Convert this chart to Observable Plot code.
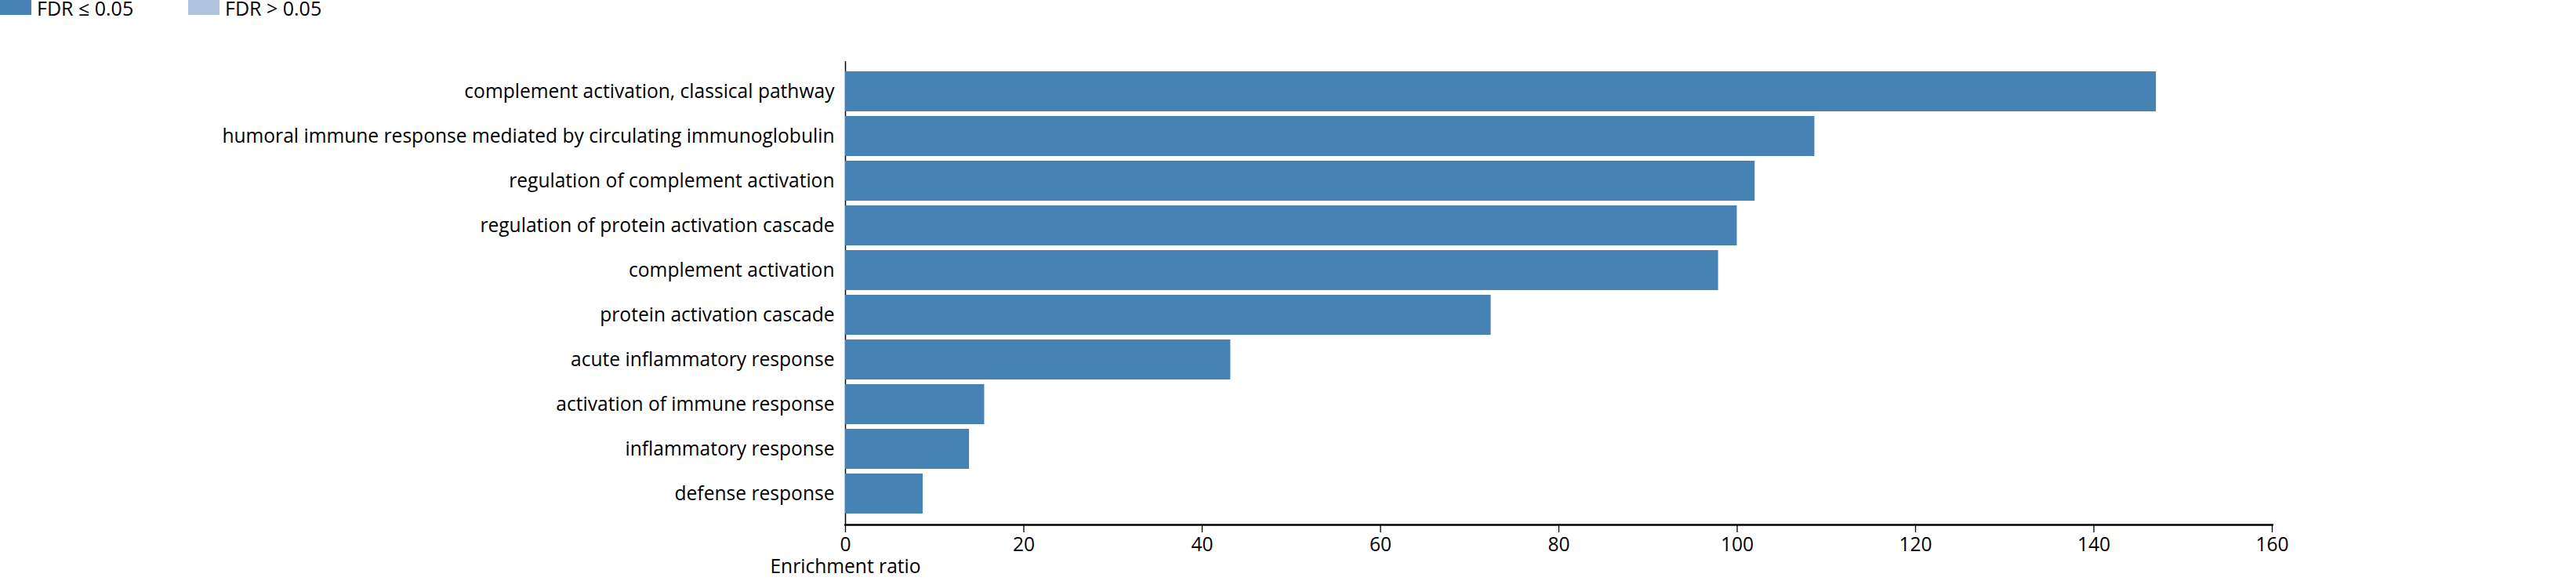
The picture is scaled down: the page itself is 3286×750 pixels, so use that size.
<!DOCTYPE html>
<html>
<head>
<meta charset="utf-8">
<script src="https://cdn.jsdelivr.net/npm/d3@7"></script>
<script src="https://cdn.jsdelivr.net/npm/@observablehq/plot@0.6"></script>
<style>
  html, body { margin: 0; padding: 0; background: #fff; }
  #legend { position: relative; width: 3286px; height: 20px; font-family: "Open Sans", sans-serif; font-size: 25px; color: #000; }
  #legend .sw { position: absolute; top: 0; width: 40px; height: 19px; }
  #legend .lb { position: absolute; top: 0; line-height: 20px; white-space: nowrap; }
  #chart svg { display: block; }
</style>
</head>
<body>
<div id="legend"></div>
<div id="chart"></div>
<script>
const categories = [
  "complement activation, classical pathway",
  "humoral immune response mediated by circulating immunoglobulin",
  "regulation of complement activation",
  "regulation of protein activation cascade",
  "complement activation",
  "protein activation cascade",
  "acute inflammatory response",
  "activation of immune response",
  "inflammatory response",
  "defense response"
];
const enrichmentRatio = [147.0, 108.7, 102.0, 100.0, 97.9, 72.4, 43.2, 15.6, 13.9, 8.7];
const fdrGroup = [
  "FDR ≤ 0.05", "FDR ≤ 0.05", "FDR ≤ 0.05", "FDR ≤ 0.05", "FDR ≤ 0.05",
  "FDR ≤ 0.05", "FDR ≤ 0.05", "FDR ≤ 0.05", "FDR ≤ 0.05", "FDR ≤ 0.05"
];
const legendLabels = ["FDR ≤ 0.05", "FDR > 0.05"];
const legendColors = ["#4682b4", "#b0c4de"];
const xTicks = [0, 20, 40, 60, 80, 100, 120, 140, 160];
const xTitle = "Enrichment ratio";

const data = categories.map((term, i) => ({term, value: enrichmentRatio[i], fdr: fdrGroup[i]}));

// Legend (HTML, above the SVG)
const legend = document.getElementById("legend");
const legendOffsets = [0, 240];
legendLabels.forEach((lab, i) => {
  const sw = document.createElement("div");
  sw.className = "sw";
  sw.style.left = legendOffsets[i] + "px";
  sw.style.background = legendColors[i];
  legend.appendChild(sw);
  const tx = document.createElement("span");
  tx.className = "lb";
  tx.style.left = (legendOffsets[i] + 47) + "px";
  tx.textContent = lab;
  legend.appendChild(tx);
});

const chart = Plot.plot({
  width: 3286,
  height: 730,
  marginLeft: 1078,
  marginRight: 388,
  marginTop: 58,
  marginBottom: 81,
  style: {fontFamily: "Open Sans, sans-serif", fontSize: "24.6px", color: "#000", background: "#fff"},
  x: {domain: [0, 160]},
  y: {domain: categories, range: [60.2, 645.8], padding: 0.1},
  color: {domain: legendLabels, range: legendColors},
  marks: [
    Plot.ruleX([0], {stroke: "#000", strokeWidth: 1.5}),
    Plot.barX(data, {x: "value", y: "term", fill: "fdr"}),
    Plot.frame({anchor: "bottom", stroke: "#000", strokeWidth: 2.7}),
    Plot.axisX({ticks: xTicks, tickSize: 10, tickPadding: 6, label: null, strokeWidth: 1.3}),
    Plot.axisY({tickSize: 0, tickPadding: 14, label: null}),
    Plot.text([0], {x: d => d, text: () => xTitle, frameAnchor: "bottom", dy: 61, fill: "#000"})
  ]
});
document.getElementById("chart").appendChild(chart);
</script>
</body>
</html>
